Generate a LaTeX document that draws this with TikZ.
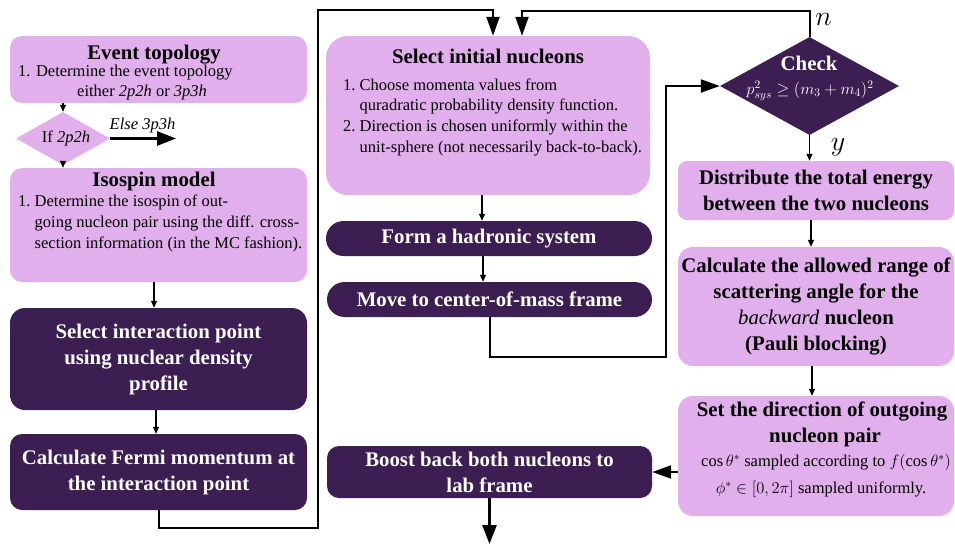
\documentclass[tikz,border=0pt]{standalone}
\usepackage{fix-cm}
\usepackage{fontspec}
\setmainfont{Liberation Serif}
\usetikzlibrary{shapes.geometric,arrows.meta}
\definecolor{lightp}{HTML}{E1AFEB}
\definecolor{darkp}{HTML}{3C1E52}
\newcommand{\bigtxt}{\fontsize{20.8}{26}\selectfont\bfseries}
\newcommand{\smtxt}{\fontsize{16.5}{20.7}\selectfont}
\begin{document}
\begin{tikzpicture}[x=1pt,y=-1pt,
  lbox/.style={fill=lightp, inner sep=0pt, align=center, font=\bigtxt},
  dbox/.style={fill=darkp, inner sep=0pt, text=white, align=center, font=\bigtxt},
  ttl/.style={inner sep=0pt, font=\bigtxt, anchor=base},
  txt/.style={inner sep=0pt, font=\smtxt, anchor=base west},
  ctxt/.style={inner sep=0pt, font=\smtxt, anchor=base},
  small/.style={-{Triangle[length=7pt,width=6pt]}, line width=1.1pt},
  flow/.style={-{Triangle[length=19pt,width=13pt]}, line width=2pt},
  thickflow/.style={-{Triangle[length=19pt,width=14pt]}, line width=2.8pt},
  lbl/.style={inner sep=0pt, font=\fontsize{28}{30}\selectfont, anchor=base}
]
\useasboundingbox (0,0) rectangle (955,544);

% ---------- left column ----------
\node[lbox, rounded corners=12pt, minimum width=297pt, minimum height=67pt] (event) at (158.5,69.5) {};
\node[ttl] (evT) at (154,59.3) {Event topology};
\node[txt] (evL1) at (18,76.7) {1. Determine the event topology};
\node[txt] (evL2) at (77,96.7) {either \textit{2p2h} or \textit{3p3h}};

\node[diamond, fill=lightp, inner sep=0pt, minimum width=94pt, minimum height=53pt] (d1) at (63,138.5) {};
\node[ctxt] (d1T) at (66,142.7) {If \textit{2p2h}};

\node[lbox, rounded corners=12pt, minimum width=297pt, minimum height=114pt] (iso) at (158.5,225) {};
\node[ttl] (isoT) at (154,186.7) {Isospin model};
\node[txt] (isoL) at (18,206.7) {\begin{tabular}[t]{@{}l@{\ }l@{}}1.& Determine the isospin of out-\\
 & going nucleon pair using the diff. cross-\\
 & section information (in the MC fashion).\end{tabular}};

\node[dbox, rounded corners=15pt, minimum width=297pt, minimum height=102pt] (selpt) at (158.5,359)
  {Select interaction point\\ using nuclear density\\ profile};
\node[dbox, rounded corners=12pt, minimum width=297pt, minimum height=76pt] (fermi) at (158.5,472)
  {Calculate Fermi momentum at\\ the interaction point};

% ---------- middle column ----------
\node[lbox, rounded corners=22pt, minimum width=324pt, minimum height=159pt] (init) at (488,115.5) {};
\node[ttl] (initT) at (488,63.3) {Select initial nucleons};
\node[txt] (initL) at (343,90) {\begin{tabular}[t]{@{}l@{\ }l@{}}1.& Choose momenta values from\\
 & quradratic probability density function.\\
 2.& Direction is chosen uniformly within the\\
 & unit-sphere (not necessarily back-to-back).\end{tabular}};

\node[dbox, rounded corners=17.5pt, minimum width=326pt, minimum height=35pt] (form) at (489,238.5) {Form a hadronic system};
\node[dbox, rounded corners=17.5pt, minimum width=325pt, minimum height=35pt] (move) at (489.5,299.5) {Move to center-of-mass frame};
\node[dbox, rounded corners=12pt, minimum width=325pt, minimum height=52pt] (boost) at (489.5,472)
  {Boost back both nucleons to\\ lab frame};

% ---------- right column ----------
\node[diamond, fill=darkp, inner sep=0pt, minimum width=179pt, minimum height=98pt] (check) at (809.5,86) {};
\node[ttl, text=white] (checkT) at (809,70.5) {Check};
\node[ctxt, text=white] (checkF) at (810,94) {$p^2_{sys}\geq(m_3+m_4)^2$};

\node[lbox, rounded corners=9pt, minimum width=276pt, minimum height=59pt] (dist) at (816,190.5)
  {Distribute the total energy\\ between the two nucleons};
\node[lbox, rounded corners=15pt, minimum width=276pt, minimum height=119pt] (calc) at (816,306.5)
  {Calculate the allowed range of\\ scattering angle for the\\ {\mdseries\itshape backward} nucleon\\ (Pauli blocking)};
\node[lbox, rounded corners=15pt, minimum width=276pt, minimum height=120pt] (set) at (816,456) {};
\node[ttl] (setT1) at (822,416.7) {Set the direction of outgoing};
\node[ttl] (setT2) at (825,442.3) {nucleon pair};
\node[ctxt] (setT3) at (826,466.7) {$\cos\theta^*$ sampled according to $f(\cos\theta^*)$};
\node[ctxt] (setT4) at (821,493.3) {$\phi^*\in[0,2\pi]$ sampled uniformly.};

\node[lbl] (nlab) at (823.5,25) {$n$};
\node[lbl] (ylab) at (838,150) {$y$};

% ---------- connectors ----------
\coordinate (elseend) at (176,138.5);
\coordinate (c1) at (318,528);
\coordinate (c2) at (493,10);
\coordinate (c4) at (522,11);
\coordinate (c5) at (666,357);
\coordinate (exitc) at (488,544);

\draw[small] (d1.north |- event.south) -- (d1.north);
\draw[small] (d1.south) -- (d1.south |- iso.north);
\draw[thickflow] (d1.east) -- (elseend);
\node[ctxt] (elseT) at (142.5,129.3) {\textit{Else 3p3h}};

\draw[small] ([xshift=-4.5pt]iso.south) -- ([xshift=-4.5pt]selpt.north);
\draw[small] ([xshift=-2.5pt]selpt.south) -- ([xshift=-2.5pt]fermi.south |- fermi.north);

\draw[flow] (fermi.south) |- (c1) -- (c1 |- c2) -| (c2 |- init.north);
\draw[flow] (check.north) |- (c4) -- (c4 |- init.north);

\draw[small] ([xshift=-6pt]init.south) -- ([xshift=-6pt]init.south |- form.north);
\draw[small] ([xshift=-6pt]form.south) -- ([xshift=-6pt]form.south |- move.north);
\draw[flow] (move.south) |- (c5) |- (check.west);

\draw[small] (check.south) -- (check.south |- dist.north);
\draw[small] ([xshift=-5pt]dist.south) -- ([xshift=-5pt]dist.south |- calc.north);
\draw[small] ([xshift=-4pt]calc.south) -- ([xshift=-4pt]calc.south |- set.north);

\draw[flow] (boost.east -| set.west) -- (boost.east);
\draw[thickflow] (boost.south) -- (boost.south |- exitc);
\end{tikzpicture}
\end{document}
